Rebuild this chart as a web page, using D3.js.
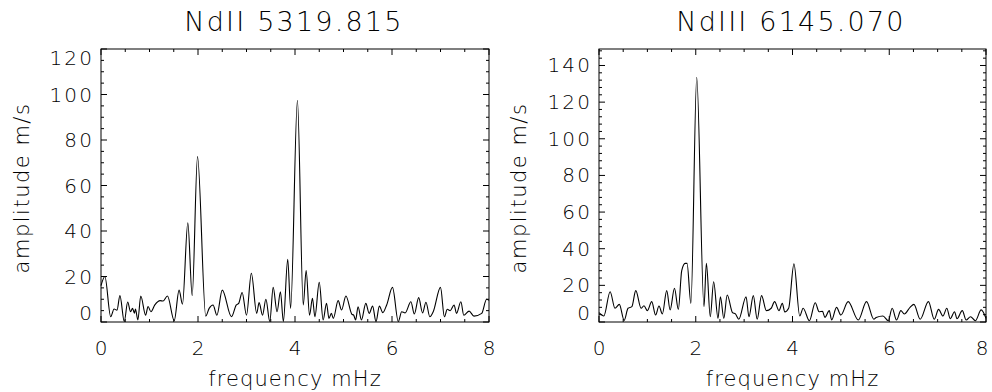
<!DOCTYPE html>
<html>
<head>
<meta charset="utf-8">
<script src="https://cdn.jsdelivr.net/npm/d3@7"></script>
<style>
  html, body { margin: 0; padding: 0; background: #fff; }
  svg text { font-family: "DejaVu Sans", sans-serif; font-weight: 200; fill: #000; }
</style>
</head>
<body>
<svg id="chart" width="992" height="392"></svg>
<script>
// ---- Data ----
const titles = ["NdII 5319.815", "NdIII 6145.070"];
const xTickLabels = ["0", "2", "4", "6", "8"];
const yTicksLeft = [0, 20, 40, 60, 80, 100, 120];
const yTicksRight = [0, 20, 40, 60, 80, 100, 120, 140];
const xLabel = "frequency mHz";
const yLabel = "amplitude m/s";

// Left panel: frequency (mHz)
const freqLeft = [0.00,0.08,0.20,0.27,0.33,0.39,0.48,0.55,0.61,0.65,0.69,0.71,0.76,0.82,0.92,0.97,1.03,1.11,1.22,1.28,1.37,1.51,1.61,1.68,1.79,1.88,1.99,2.16,2.23,2.31,2.39,2.50,2.69,2.79,2.84,2.91,3.00,3.10,3.21,3.26,3.33,3.40,3.48,3.55,3.63,3.70,3.76,3.85,3.91,4.05,4.17,4.23,4.30,4.36,4.41,4.50,4.58,4.65,4.70,4.75,4.79,4.89,4.96,5.05,5.17,5.21,5.25,5.30,5.37,5.46,5.53,5.60,5.67,5.74,5.81,5.89,6.01,6.13,6.20,6.27,6.39,6.46,6.55,6.63,6.70,6.78,6.85,7.00,7.08,7.14,7.20,7.28,7.33,7.42,7.48,7.59,7.69,7.85,7.95,8.00];
// Left panel: amplitude (m/s)
const ampLeft = [16,20,2.3,5.7,5.2,11.6,0.2,8.8,4.5,6.0,3.9,5.7,0.9,11.4,3.0,6.8,4.5,7.5,9.4,9.2,11.4,0.6,14.0,7.8,43.6,11.6,72.7,2.6,6.0,7.5,3.0,14.0,2.3,7.5,8.2,13.0,3.0,21.4,3.8,8.5,3.0,10.0,0.2,15.2,4.5,13.3,0.2,27.6,6.0,97.5,7.5,22.6,3.0,10.4,2.3,17.4,0.9,8.2,1.6,3.8,1.6,9.4,5.3,11.4,3.5,3.0,0.9,6.7,0.9,8.2,3.8,7.0,0.2,7.0,4.1,7.5,15.2,0.2,4.5,4.0,8.9,3.5,10.7,4.0,8.7,2.3,4.5,15.2,2.3,5.6,5.0,7.5,3.8,8.9,3.0,4.8,2.6,3.8,10.0,9.5];

// Right panel: frequency (mHz)
const freqRight = [0.00,0.05,0.10,0.23,0.33,0.42,0.52,0.60,0.68,0.76,0.87,0.93,1.00,1.09,1.17,1.24,1.31,1.40,1.47,1.56,1.64,1.71,1.78,1.82,1.90,2.02,2.17,2.22,2.30,2.37,2.46,2.51,2.58,2.65,2.76,2.82,2.89,3.04,3.10,3.19,3.27,3.36,3.46,3.56,3.63,3.72,3.79,3.84,3.92,4.03,4.15,4.22,4.35,4.47,4.55,4.62,4.67,4.76,4.81,4.91,5.00,5.15,5.36,5.53,5.68,5.73,5.87,5.98,6.06,6.15,6.24,6.31,6.43,6.51,6.64,6.81,6.93,7.02,7.11,7.19,7.26,7.35,7.40,7.51,7.59,7.68,7.78,7.90,8.00];
// Right panel: amplitude (m/s)
const ampRight = [5.1,4.0,3.3,16.5,7.5,9.6,0.9,7.5,8.4,17.1,7.5,8.9,6.2,11.1,3.8,8.7,4.4,17.1,6.6,18.4,6.9,28,32,32,10.2,133.6,8.4,32,2.9,22,2.0,13.8,2.0,14.7,5.1,4.4,1.5,13.8,2.9,14.4,1.5,14.4,6.2,7.5,11.1,6.2,10.2,5.5,7.5,31.7,3.3,7.5,0.7,10.5,5.6,5.8,2.5,6.2,1.1,8.0,3.8,11.1,1.1,11.1,1.5,2.5,3.3,0.7,7.5,1.1,6.2,4.4,8.0,9.6,1.5,11.1,1.5,6.9,3.3,7.5,1.8,5.6,1.8,6.2,1.1,2.9,0.7,6.6,2.0];

// ---- Drawing ----
const svg = d3.select("#chart");

const panels = [
  { title: titles[0], freq: freqLeft, amp: ampLeft, yMax: 120, yTicks: yTicksLeft, yMinorStep: 5,
    left: 101, right: 489, top: 49, bottom: 322, titleX: 293, yLabelX: 22 },
  { title: titles[1], freq: freqRight, amp: ampRight, yMax: 149, yTicks: yTicksRight, yMinorStep: 4,
    left: 599, right: 986, top: 49, bottom: 322, titleX: 790, yLabelX: 519 }
];

const tickLS = 2.2;

panels.forEach(p => {
  const g = svg.append("g");
  const x = d3.scaleLinear().domain([0, 8]).range([p.left, p.right]);
  const y = d3.scaleLinear().domain([0, p.yMax]).range([p.bottom, p.top]);

  // curve
  const data = p.freq.map((f, i) => [f, p.amp[i]]);
  g.append("path")
    .datum(data)
    .attr("fill", "none")
    .attr("stroke", "#000")
    .attr("stroke-width", 1.1)
    .attr("d", d3.line().x(d => x(d[0])).y(d => y(d[1])).curve(d3.curveMonotoneX));

  // frame
  g.append("rect")
    .attr("x", p.left).attr("y", p.top)
    .attr("width", p.right - p.left).attr("height", p.bottom - p.top)
    .attr("fill", "none").attr("stroke", "#000").attr("stroke-width", 1);

  const majLen = 6, minLen = 3;
  const xMaj = [0, 2, 4, 6, 8];
  const xMin = d3.range(0, 8.001, 0.5).filter(v => Math.abs(v % 2) > 1e-6);
  const tickG = g.append("g").attr("stroke", "#000").attr("stroke-width", 1);
  xMaj.forEach(v => {
    tickG.append("line").attr("x1", x(v)).attr("x2", x(v)).attr("y1", p.bottom).attr("y2", p.bottom - majLen);
    tickG.append("line").attr("x1", x(v)).attr("x2", x(v)).attr("y1", p.top).attr("y2", p.top + majLen);
  });
  xMin.forEach(v => {
    tickG.append("line").attr("x1", x(v)).attr("x2", x(v)).attr("y1", p.bottom).attr("y2", p.bottom - minLen);
    tickG.append("line").attr("x1", x(v)).attr("x2", x(v)).attr("y1", p.top).attr("y2", p.top + minLen);
  });
  p.yTicks.forEach(v => {
    tickG.append("line").attr("x1", p.left).attr("x2", p.left + majLen).attr("y1", y(v)).attr("y2", y(v));
    tickG.append("line").attr("x1", p.right).attr("x2", p.right - majLen).attr("y1", y(v)).attr("y2", y(v));
  });
  d3.range(0, p.yMax + 0.001, p.yMinorStep).filter(v => v % 20 !== 0).forEach(v => {
    tickG.append("line").attr("x1", p.left).attr("x2", p.left + minLen).attr("y1", y(v)).attr("y2", y(v));
    tickG.append("line").attr("x1", p.right).attr("x2", p.right - minLen).attr("y1", y(v)).attr("y2", y(v));
  });

  // x tick labels (kept inside the 992px canvas)
  xMaj.forEach((v, i) => {
    const cx = Math.min(x(v), 982);
    g.append("text").attr("x", cx + tickLS / 2).attr("y", 348).attr("dy", "0.35em")
      .attr("text-anchor", "middle").attr("font-size", 20).attr("letter-spacing", tickLS)
      .text(xTickLabels[i]);
  });
  // y tick labels
  p.yTicks.forEach(v => {
    const cy = Math.max(p.top + 9, Math.min(p.bottom - 9, y(v)));
    g.append("text").attr("x", p.left - 9 + tickLS).attr("y", cy).attr("dy", "0.35em")
      .attr("text-anchor", "end").attr("font-size", 20).attr("letter-spacing", tickLS)
      .text(String(v));
  });

  // titles
  g.append("text").attr("x", p.titleX + 1).attr("y", 22).attr("dy", "0.35em")
    .attr("text-anchor", "middle").attr("font-size", 27).attr("letter-spacing", 2.2)
    .text(p.title);
  g.append("text").attr("x", (p.left + p.right) / 2).attr("y", 379).attr("dy", "0.35em")
    .attr("text-anchor", "middle").attr("font-size", 21).attr("letter-spacing", 1.1)
    .text(xLabel);
  g.append("text")
    .attr("transform", `translate(${p.yLabelX},${188}) rotate(-90)`)
    .attr("dy", "0.35em").attr("text-anchor", "middle").attr("font-size", 21).attr("letter-spacing", 1.5)
    .text(yLabel);
});
</script>
</body>
</html>
